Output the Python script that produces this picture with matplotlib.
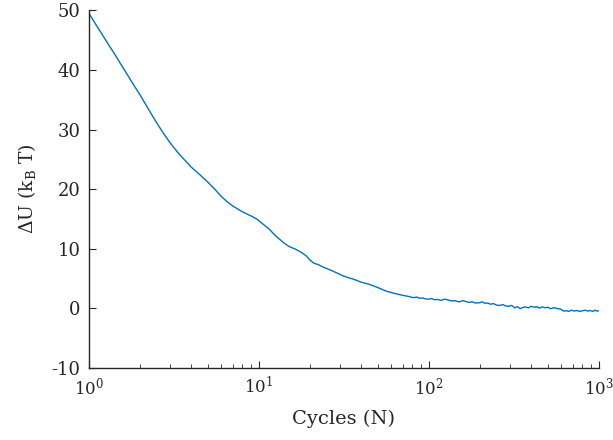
import matplotlib
matplotlib.use("Agg")
import matplotlib.pyplot as plt
from matplotlib.ticker import LogLocator, NullFormatter

# energy difference vs number of cycles
cycles = [1.0, 1.1, 1.2, 1.3, 1.4, 1.5, 1.7, 1.9, 2.0, 2.2, 2.4, 2.6, 2.8, 3.0,
          3.3, 3.6, 4.0, 4.5, 5.0, 5.5, 6.0, 6.5, 7.0, 8.0, 9.0, 9.7, 10.5,
          11.5, 12.5, 14, 15, 16.5, 18, 19, 20, 21, 22.5, 24, 26, 28.5, 31,
          34, 36, 40, 45, 50, 56, 63, 70, 76, 81, 85, 88, 92, 95, 100, 104,
          108, 112, 118, 124, 130, 136, 142, 148, 152, 158, 165, 172, 180,
          188, 199, 206, 214, 222, 230, 240, 250, 262, 272, 283, 295, 306,
          320, 332, 344, 356, 370, 384, 400, 415, 431, 448, 465, 482, 500,
          520, 540, 560, 575, 588, 605, 620, 644, 665, 690, 715, 740, 770,
          800, 830, 860, 890, 920, 950, 975, 1000]
dU = [49.5, 47.6, 45.9, 44.3, 42.9, 41.5, 39.0, 36.8, 35.8, 33.8, 32.0, 30.4,
      29.0, 27.8, 26.3, 25.1, 23.7, 22.4, 21.2, 20.0, 18.8, 17.9, 17.2, 16.2,
      15.5, 15.0, 14.2, 13.3, 12.2, 11.0, 10.4, 9.9, 9.3, 8.8, 8.1, 7.6, 7.3,
      6.9, 6.5, 6.0, 5.5, 5.1, 4.9, 4.4, 4.0, 3.5, 2.9, 2.5, 2.2, 2.0, 1.8,
      1.9, 1.7, 1.75, 1.6, 1.55, 1.65, 1.45, 1.5, 1.35, 1.55, 1.4, 1.25, 1.3,
      1.15, 1.1, 1.3, 1.15, 1.0, 1.1, 0.9, 0.95, 1.1, 0.85, 0.9, 0.7, 0.8,
      0.55, 0.5, 0.65, 0.4, 0.35, 0.5, 0.1, 0.3, -0.05, 0.15, 0.25, 0.1,
      0.35, 0.2, 0.28, 0.05, 0.25, 0.1, 0.2, -0.05, 0.1, 0.05, -0.1, -0.05,
      -0.25, -0.45, -0.4, -0.5, -0.3, -0.45, -0.35, -0.5, -0.4, -0.3, -0.45,
      -0.35, -0.5, -0.3, -0.45, -0.4]

plt.rcParams["font.family"] = "DejaVu Serif"
plt.rcParams["mathtext.fontset"] = "dejavuserif"
plt.rcParams["axes.unicode_minus"] = False

fig = plt.figure(figsize=(6.13, 4.40), dpi=100)
ax = fig.add_axes([0.145, 0.1636, 0.832, 0.813])

ax.plot(cycles, dU, color="#0072BD", lw=1.0)

ax.set_xscale("log")
ax.set_xlim(1, 1000)
ax.set_ylim(-10, 50)
ax.set_yticks(range(-10, 51, 10))
ax.xaxis.set_minor_locator(LogLocator(base=10, subs=range(2, 10)))
ax.xaxis.set_minor_formatter(NullFormatter())

for s in ["top", "right"]:
    ax.spines[s].set_visible(False)
for s in ["left", "bottom"]:
    ax.spines[s].set_color("#262626")
    ax.spines[s].set_linewidth(1.0)

ax.tick_params(axis="both", which="major", direction="in", length=5,
               width=0.8, colors="#262626", pad=6)
ax.tick_params(axis="y", labelsize=13)
ax.tick_params(axis="x", labelsize=12)
ax.tick_params(axis="x", which="minor", direction="in", length=3,
               width=0.6, colors="#262626")

ax.set_xlabel("Cycles (N)", fontsize=14, color="#262626", labelpad=8)
ax.set_ylabel(r"$\Delta$U (k$_\mathrm{B}$ T)", fontsize=13.5, color="#262626",
              labelpad=10)

fig.savefig("out.png", dpi=100)
